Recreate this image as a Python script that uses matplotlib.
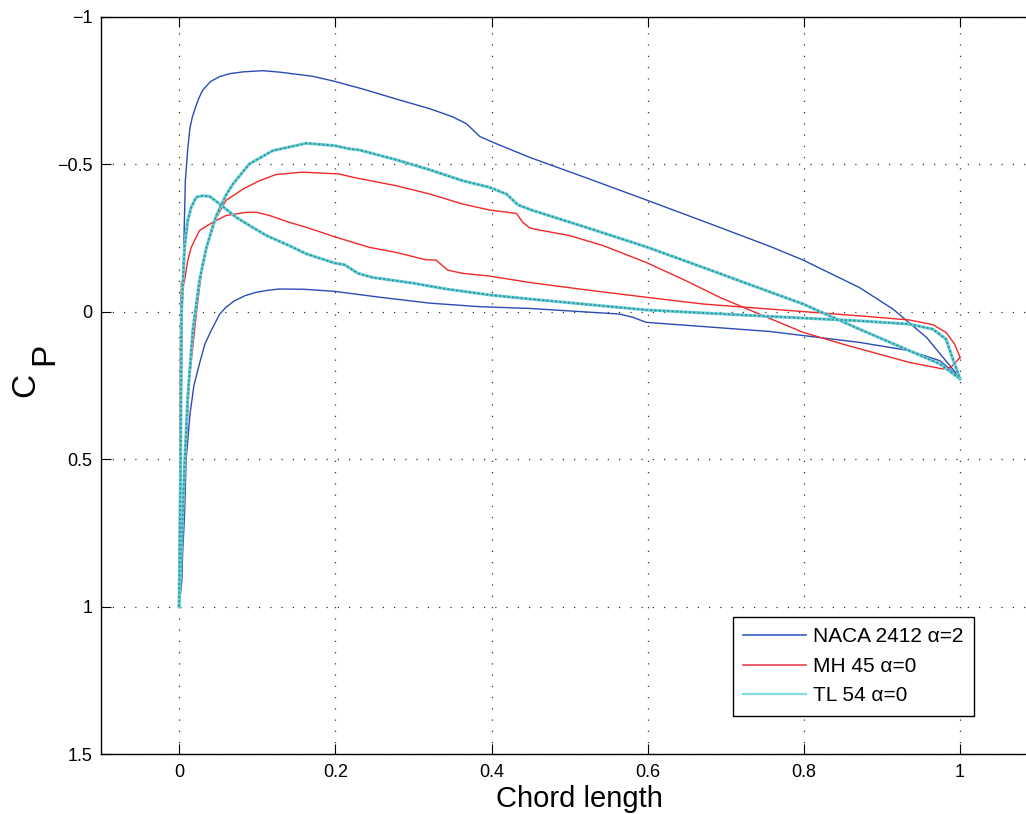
import matplotlib
matplotlib.use("Agg")
import matplotlib.pyplot as plt
from matplotlib.lines import Line2D

plt.rcParams['font.family'] = ['Liberation Sans', 'DejaVu Sans']

# ---------------- data ----------------
naca_up_x = [0, 0.002, 0.004, 0.006, 0.008, 0.011, 0.014, 0.017, 0.020, 0.025, 0.030, 0.040, 0.052,
             0.065, 0.082, 0.107, 0.129, 0.171, 0.199, 0.235, 0.278, 0.321, 0.350, 0.368, 0.385,
             0.402, 0.449, 0.52, 0.598, 0.680, 0.756, 0.799, 0.871, 0.914, 0.957, 1.0]
naca_up_cp = [1.0, 0.5, 0.0, -0.22, -0.444, -0.55, -0.625, -0.66, -0.685, -0.722, -0.750, -0.780, -0.797,
              -0.807, -0.813, -0.817, -0.812, -0.798, -0.781, -0.755, -0.721, -0.688, -0.661, -0.637, -0.594,
              -0.574, -0.523, -0.455, -0.379, -0.298, -0.222, -0.175, -0.082, -0.009, 0.087, 0.225]
naca_lo_x = [0, 0.0035, 0.0045, 0.007, 0.009, 0.014, 0.019, 0.026, 0.033, 0.041, 0.052, 0.060, 0.071,
             0.085, 0.099, 0.115, 0.1286, 0.160, 0.199, 0.257, 0.321, 0.385, 0.449, 0.564, 0.581,
             0.598, 0.756, 0.871, 0.935, 0.974, 1.0]
naca_lo_cp = [1.0, 0.913, 0.82, 0.686, 0.50, 0.346, 0.25, 0.177, 0.11, 0.064, 0.008, -0.015, -0.037,
              -0.055, -0.066, -0.073, -0.077, -0.076, -0.069, -0.049, -0.029, -0.017, -0.011, 0.008, 0.019,
              0.036, 0.067, 0.104, 0.132, 0.166, 0.225]

mh_up_x = [0, 0.003, 0.007, 0.013, 0.022, 0.030, 0.043, 0.060, 0.082, 0.103, 0.124, 0.158, 0.205,
           0.222, 0.278, 0.321, 0.363, 0.397, 0.432, 0.440, 0.449, 0.457, 0.500, 0.543, 0.598, 0.649,
           0.692, 0.743, 0.799, 0.850, 0.935, 0.978, 0.988, 1.0]
mh_up_cp = [1.0, 0.80, 0.573, 0.234, 0.007, -0.162, -0.297, -0.377, -0.416, -0.444, -0.465, -0.473, -0.467,
            -0.456, -0.427, -0.399, -0.365, -0.345, -0.333, -0.303, -0.284, -0.279, -0.258, -0.224, -0.167, -0.105,
            -0.049, 0.008, 0.070, 0.110, 0.172, 0.194, 0.189, 0.155]
mh_lo_x = [0, 0.001, 0.002, 0.003, 0.005, 0.007, 0.011, 0.0155, 0.026, 0.043, 0.060, 0.086, 0.099,
           0.116, 0.141, 0.163, 0.199, 0.244, 0.278, 0.316, 0.329, 0.344, 0.363, 0.397, 0.449, 0.521,
           0.598, 0.671, 0.756, 0.871, 0.935, 0.965, 0.982, 0.993, 1.0]
mh_lo_cp = [1.0, 0.5, 0.0, -0.10, -0.085, -0.105, -0.173, -0.218, -0.275, -0.303, -0.326, -0.337, -0.337,
            -0.326, -0.303, -0.286, -0.254, -0.218, -0.201, -0.176, -0.175, -0.141, -0.130, -0.121, -0.099, -0.074,
            -0.049, -0.026, -0.009, 0.014, 0.028, 0.044, 0.070, 0.110, 0.155]

tl_up_x = [0, 0.003, 0.007, 0.011, 0.0175, 0.026, 0.035, 0.0475, 0.060, 0.069, 0.090, 0.120, 0.163,
           0.199, 0.218, 0.231, 0.278, 0.321, 0.363, 0.397, 0.419, 0.434, 0.453, 0.521, 0.598, 0.671,
           0.743, 0.799, 0.871, 0.935, 0.974, 1.0]
tl_up_cp = [1.0, 0.80, 0.517, 0.291, 0.064, -0.105, -0.218, -0.325, -0.395, -0.433, -0.501, -0.546, -0.571,
            -0.563, -0.552, -0.548, -0.515, -0.481, -0.444, -0.422, -0.399, -0.362, -0.343, -0.286, -0.220, -0.150,
            -0.080, -0.026, 0.059, 0.132, 0.177, 0.228]
tl_lo_x = [0, 0.002, 0.003, 0.005, 0.007, 0.011, 0.0155, 0.022, 0.030, 0.039, 0.052, 0.073, 0.094,
           0.112, 0.141, 0.163, 0.199, 0.212, 0.229, 0.248, 0.299, 0.342, 0.397, 0.449, 0.598, 0.756,
           0.871, 0.935, 0.965, 0.982, 0.990, 1.0]
tl_lo_cp = [1.0, 0.5, 0.0, -0.105, -0.218, -0.309, -0.354, -0.388, -0.393, -0.391, -0.365, -0.320, -0.286,
            -0.258, -0.224, -0.196, -0.165, -0.159, -0.130, -0.116, -0.097, -0.077, -0.057, -0.043, -0.006, 0.016,
            0.031, 0.042, 0.059, 0.093, 0.155, 0.228]

series_labels = ['NACA 2412 \u03b1=2', 'MH 45 \u03b1=0', 'TL 54 \u03b1=0']
xtick_vals = [0, 0.2, 0.4, 0.6, 0.8, 1.0]
xtick_labels = ['0', '0.2', '0.4', '0.6', '0.8', '1']
ytick_vals = [-1, -0.5, 0, 0.5, 1, 1.5]
ytick_labels = ['\u22121', '\u22120.5', '0', '0.5', '1', '1.5']

# ---------------- figure ----------------
W, H = 1026, 814
fig = plt.figure(figsize=(W / 100, H / 100), dpi=100)
ax = fig.add_axes([101 / W, (H - 754.2) / H, 937.2 / W, 737.5 / H])

blue = '#2a4cb4'
red = '#f02828'
cyan_light = '#66d2da'
cyan_dark = '#3c8f98'

ax.plot(naca_up_x, naca_up_cp, color=blue, lw=1.0)
ax.plot(naca_lo_x, naca_lo_cp, color=blue, lw=1.0)
ax.plot(mh_up_x, mh_up_cp, color=red, lw=1.0)
ax.plot(mh_lo_x, mh_lo_cp, color=red, lw=1.0)
for xs, cs in [(tl_up_x, tl_up_cp), (tl_lo_x, tl_lo_cp)]:
    ax.plot(xs, cs, color=cyan_light, lw=2.2)
    ax.plot(xs, cs, color=cyan_dark, lw=1.3, linestyle=(0, (1.2, 1.2)))

ax.set_xlim(-0.1, 1.1)
ax.set_ylim(1.5, -1)
ax.set_xticks(xtick_vals)
ax.set_xticklabels(xtick_labels)
ax.set_yticks(ytick_vals)
ax.set_yticklabels(ytick_labels)
ax.tick_params(direction='in', length=7, width=0.8, top=True, right=True,
               labelsize=13, colors='black')
ax.tick_params(axis='x', pad=7)
ax.tick_params(axis='y', pad=6)
ax.grid(True, color='#333333', linestyle=(0, (1, 8)), linewidth=0.9)
for s in ax.spines.values():
    s.set_linewidth(1.0)
    s.set_color('black')

handles = [Line2D([], [], color='#3a5cc4', lw=1.2),
           Line2D([], [], color='#ee4050', lw=1.2),
           Line2D([], [], color='#80dbe3', lw=1.6)]
leg = ax.legend(handles, series_labels, loc='upper left',
                bbox_to_anchor=(733 / W, (H - 617) / H), bbox_transform=fig.transFigure,
                fontsize=15, frameon=True, fancybox=False, framealpha=1,
                edgecolor='black', handlelength=3.0, handletextpad=0.35,
                labelspacing=0.5, borderpad=0.5, borderaxespad=0)
leg.get_frame().set_linewidth(1.0)

fig.text(579.5 / W, 7 / H, 'Chord length', fontsize=21, ha='center', va='baseline')
fig.text(25.8 / W, 1 - 384.5 / H, 'C', fontsize=24, rotation=90, ha='center', va='center')
fig.text(45 / W, 1 - 354 / H, 'P', fontsize=24, rotation=90, ha='center', va='center')

fig.savefig('out.png', dpi=100)
